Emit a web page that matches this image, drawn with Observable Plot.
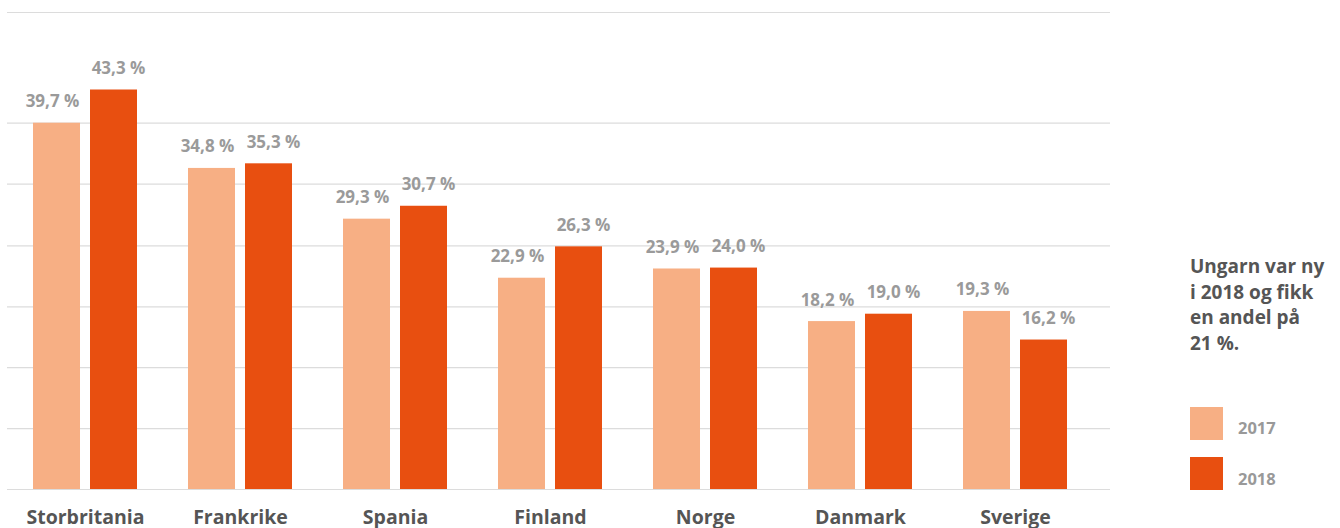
<!DOCTYPE html>
<html>
<head>
<meta charset="utf-8">
<script src="https://cdn.jsdelivr.net/npm/d3@7"></script>
<script src="https://cdn.jsdelivr.net/npm/@observablehq/plot@0.6"></script>
<style>
  html, body { margin: 0; padding: 0; background: #fff; }
  #wrap { position: relative; width: 1340px; height: 528px; overflow: hidden; font-family: "Open Sans", sans-serif; }
  #legend { position: absolute; left: 1190px; top: 254px; width: 150px; }
  #legend .title { font-size: 19px; font-weight: 700; color: #555; line-height: 25.5px; white-space: nowrap; }
  .item { position: absolute; left: 0; width: 160px; height: 34px; }
  .sw { position: absolute; left: 0; top: 0; width: 33px; height: 33px; }
  .lab { position: absolute; left: 48px; font-size: 16.5px; font-weight: 700; color: #999; }
</style>
</head>
<body>
<div id="wrap">
  <div id="chart"></div>
  <div id="legend"></div>
</div>
<script>
const countries = ["Storbritania", "Frankrike", "Spania", "Finland", "Norge", "Danmark", "Sverige"];
const years = ["2017", "2018"];
const values2017 = [39.7, 34.8, 29.3, 22.9, 23.9, 18.2, 19.3];
const values2018 = [43.3, 35.3, 30.7, 26.3, 24.0, 19.0, 16.2];
const gridValues = [0, 6.6, 13.2, 19.8, 26.4, 33.1, 39.7, 51.7];
const colors = ["#F7AF84", "#E84F10"];
const legendTitle = "Ungarn var ny i 2018 og fikk en andel på 21 %.";

const rows2017 = countries.map((c, i) => ({country: c, year: "2017", value: values2017[i]}));
const rows2018 = countries.map((c, i) => ({country: c, year: "2018", value: values2018[i]}));
const fmt = v => d3.format(".1f")(v).replace(".", ",") + " %";

const labelStyle = {fill: "#9a9a9a", fontSize: 17, fontWeight: 700, lineAnchor: "bottom"};

const chart = Plot.plot({
  width: 1340,
  height: 528,
  marginTop: 12,
  marginBottom: 39,
  marginLeft: 7,
  marginRight: 230,
  style: {fontFamily: "'Open Sans', sans-serif", background: "#fff"},
  x: {domain: countries, range: [7, 1093], paddingInner: 51 / 155, paddingOuter: 26 / 155, label: null},
  y: {domain: [0, 51.7], axis: null},
  marks: [
    Plot.ruleY(gridValues, {stroke: "#dcdcdc", strokeWidth: 1.2}),
    Plot.barY(rows2017, {x: "country", y: "value", fill: colors[0], insetRight: 57}),
    Plot.barY(rows2018, {x: "country", y: "value", fill: colors[1], insetLeft: 57}),
    Plot.text(rows2017, {x: "country", y: "value", text: d => fmt(d.value), dx: -33, dy: -16, ...labelStyle}),
    Plot.text(rows2018, {x: "country", y: "value", text: d => fmt(d.value), dx: 33, dy: -16, ...labelStyle}),
    Plot.axisX({tickSize: 0, tickPadding: 21, fontSize: 19.5, fontWeight: 700, fill: "#555", label: null})
  ]
});
document.getElementById("chart").appendChild(chart);

const legend = document.getElementById("legend");
const title = document.createElement("div");
title.className = "title";
title.innerHTML = "Ungarn var ny<br>i 2018 og fikk<br>en andel på<br>21 %.";
title.setAttribute("aria-label", legendTitle);
legend.appendChild(title);
years.forEach((y, i) => {
  const item = document.createElement("div");
  item.className = "item";
  item.style.top = (153 + i * 50) + "px";
  const sw = document.createElement("div");
  sw.className = "sw";
  sw.style.background = colors[i];
  const lab = document.createElement("div");
  lab.className = "lab";
  lab.style.top = (i === 0 ? 9 : 10) + "px";
  lab.textContent = y;
  item.appendChild(sw);
  item.appendChild(lab);
  legend.appendChild(item);
});
</script>
</body>
</html>
